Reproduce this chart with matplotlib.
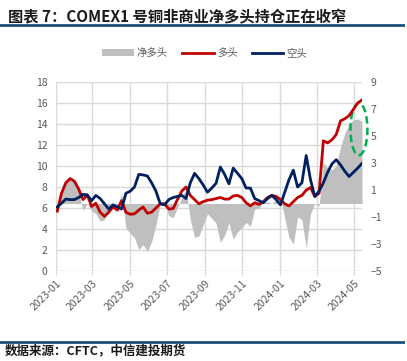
import numpy as np
import pandas as pd
import matplotlib
matplotlib.use("Agg")
import matplotlib.pyplot as plt
import matplotlib.dates as mdates
from matplotlib.patches import Ellipse, Patch
from matplotlib.lines import Line2D

plt.rcParams['font.family'] = ['Noto Sans CJK SC', 'DejaVu Sans']

# ---- data ----
dates = pd.date_range('2023-01-03', periods=72, freq='7D')
long_pos = [5.7, 7.4, 8.4, 8.8, 8.55, 7.8, 6.8, 7.25, 6.15, 6.45,
            5.6, 5.2, 5.6, 6.1, 5.8, 6.7, 5.6, 5.4, 5.45, 5.8,
            6.1, 5.5, 5.6, 6.0, 6.4, 6.4, 5.9, 5.95, 6.8, 7.6,
            8.0, 7.2, 6.8, 6.4, 6.6, 6.75, 6.8, 6.9, 7.0, 6.85,
            6.85, 7.15, 7.2, 7.0, 6.5, 6.2, 6.5, 6.35, 6.6, 7.0,
            7.2, 7.1, 6.8, 6.4, 6.2, 6.6, 7.0, 7.2, 7.7, 7.95,
            7.1, 7.4, 12.4, 12.2, 12.5, 13.0, 14.3, 14.5, 14.8, 15.4,
            16.0, 16.3]
short_pos = [6.1, 6.45, 6.85, 6.8, 6.8, 7.0, 7.3, 7.25, 6.7, 7.2,
             6.9, 6.4, 5.9, 6.3, 6.1, 5.9, 7.4, 7.6, 8.0, 9.2,
             9.15, 9.05, 8.4, 7.6, 6.4, 6.3, 6.8, 7.0, 7.1, 7.2,
             6.9, 8.4, 9.3, 8.8, 8.2, 7.5, 7.9, 8.35, 9.9, 9.2,
             8.3, 9.8, 9.3, 8.8, 7.9, 7.9, 6.9, 6.7, 6.5, 6.9,
             7.2, 6.8, 6.3, 7.5, 8.7, 9.6, 8.0, 8.4, 11.0, 8.7,
             7.1, 7.6, 8.4, 9.4, 10.2, 10.6, 10.1, 9.5, 9.0, 9.4,
             9.8, 10.25]
net_pos = [-0.4, 0.95, 1.55, 2.0, 1.75, 0.8, -0.5, 0.0, -0.55, -0.75,
           -1.3, -1.2, -0.3, -0.2, -0.3, 0.8, -1.8, -2.2, -2.55, -3.4,
           -3.05, -3.55, -2.8, -1.6, 0.0, 0.1, -0.9, -1.05, -0.3, 0.4,
           1.1, -1.2, -2.5, -2.4, -1.6, -0.75, -1.1, -1.45, -2.9, -2.35,
           -1.45, -2.65, -2.1, -1.8, -1.4, -1.7, -0.4, -0.35, 0.1, 0.1,
           0.0, 0.3, 0.5, -1.1, -2.5, -3.0, -1.0, -1.2, -3.3, -0.75,
           0.0, -0.2, 3.0, 2.6, 2.5, 2.8, 4.2, 5.2, 5.9, 6.2,
           6.25, 6.1]
tick_dates = pd.date_range('2023-01-01', '2024-05-01', freq='2MS')
left_ticks = list(range(0, 19, 2))
right_ticks = list(range(-5, 10, 2))
legend_labels = ['净多头', '多头', '空头']

title = '图表 7：COMEX1 号铜非商业净多头持仓正在收窄'
source = '数据来源：CFTC，中信建投期货'

# ---- style ----
W, H = 407, 361
fig = plt.figure(figsize=(W / 100, H / 100), dpi=100)
L, R, T, B = 56, 362, 82, 271
rect = [L / W, 1 - B / H, (R - L) / W, (B - T) / H]

grid_c = '#D9D9D9'
txt_c = '#595959'
red = '#C00000'
navy = '#002060'
gray = '#BFBFBF'

ax = fig.add_axes(rect)
ax.set_ylim(0, 18)
ax.set_yticks(left_ticks)
xmin = pd.Timestamp('2023-01-01')
xmax = pd.Timestamp('2024-05-14')
ax.set_xlim(xmin, xmax)
ax.set_xticks(tick_dates)
ax.xaxis.set_major_formatter(mdates.DateFormatter('%Y-%m'))
ax.grid(True, color=grid_c, linewidth=1.0)
ax.set_axisbelow(True)
for s in ax.spines.values():
    s.set_visible(False)
ax.tick_params(axis='y', length=0, labelsize=7.5, labelcolor=txt_c, pad=6)
ax.tick_params(axis='x', length=3, color=grid_c, labelsize=7.5, labelcolor=txt_c, pad=2)
for lbl in ax.get_xticklabels():
    lbl.set_rotation(45)
    lbl.set_ha('right')
    lbl.set_rotation_mode('anchor')

ax2 = ax.twinx()
ax2.set_ylim(-5, 9)
ax2.set_yticks(right_ticks)
for s in ax2.spines.values():
    s.set_visible(False)
ax2.tick_params(axis='y', length=0, labelsize=7.5, labelcolor=txt_c, pad=6)
ax2.fill_between(dates, 0, net_pos, color=gray, linewidth=0)

ax3 = fig.add_axes(rect, sharex=ax, sharey=ax)
ax3.patch.set_visible(False)
ax3.axis('off')
ax3.plot(dates, long_pos, color=red, linewidth=2.0, solid_joinstyle='round')
ax3.plot(dates, short_pos, color=navy, linewidth=2.0, solid_joinstyle='round')
ell = Ellipse((mdates.date2num(pd.Timestamp('2024-05-09')), 13.5), width=27.6, height=4.95,
              fill=False, edgecolor='#00B050', linestyle=(0, (3, 1.6)), linewidth=1.8,
              clip_on=False)
ax3.add_patch(ell)

# legend
handles = [Patch(facecolor=gray, edgecolor='none'),
           Line2D([], [], color=red, linewidth=2),
           Line2D([], [], color=navy, linewidth=2)]
fig.legend(handles, legend_labels, loc='center', bbox_to_anchor=(0.503, 1 - 53 / H),
           ncol=3, frameon=False, fontsize=7.5, labelcolor=txt_c,
           handlelength=3.0, handleheight=0.6, columnspacing=1.4, handletextpad=0.3)

# title and source
fig.text(8 / W, 1 - 17 / H, title, fontsize=11, fontweight='bold', va='center', ha='left',
         color='#1a1a1a')
fig.add_artist(Line2D([0, 403 / W], [1 - 25 / H, 1 - 25 / H], color='#1F4E79', linewidth=2))
fig.add_artist(Line2D([0, 403 / W], [1 - 342 / H, 1 - 342 / H], color='#1F4E79', linewidth=2))
fig.text(5 / W, 1 - 351 / H, source, fontsize=9, fontweight='bold', fontstyle='italic',
         va='center', ha='left', color='#1a1a1a')

fig.savefig('out.png', dpi=100)
